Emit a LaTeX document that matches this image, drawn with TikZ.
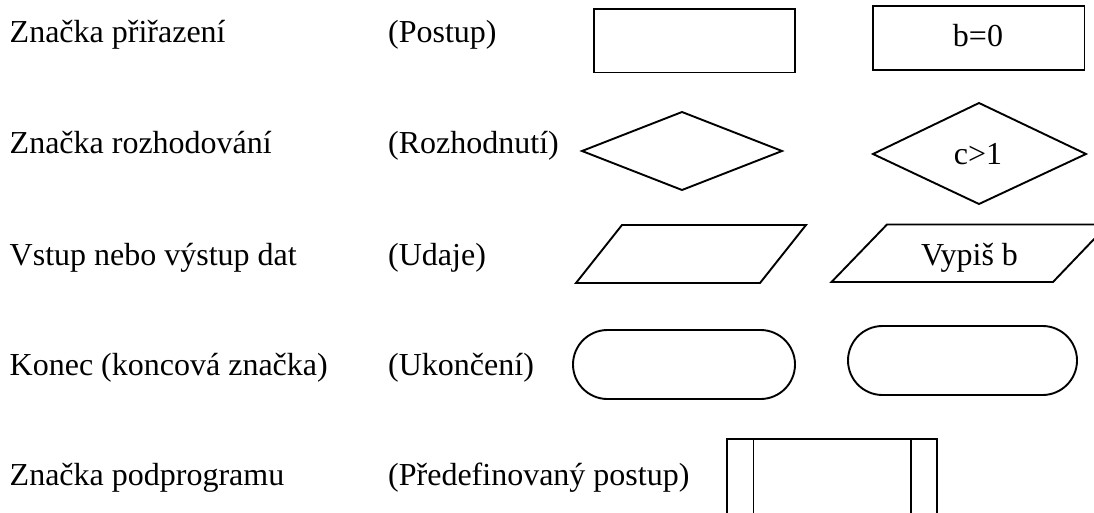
\documentclass[tikz,border=0pt]{standalone}
\usepackage{fontspec}
\setmainfont{Liberation Serif}
\begin{document}
\begin{tikzpicture}[x=1pt,y=-1pt,
  symbol/.style={line width=1.9pt, line join=miter},
  label/.style={anchor=base west, inner sep=0pt, font=\fontsize{32pt}{38pt}\selectfont},
  inlabel/.style={anchor=base, inner sep=0pt, font=\fontsize{32pt}{38pt}\selectfont}]
\useasboundingbox (0,0) rectangle (1094,513);

% row descriptions
\node[label] (d1) at (9.5,43) {Značka přiřazení};
\node[label] (d2) at (9.5,154) {Značka rozhodování};
\node[label] (d3) at (9.5,265) {Vstup nebo výstup dat};
\node[label] (d4) at (9.5,375) {Konec (koncová značka)};
\node[label] (d5) at (9.5,485) {Značka podprogramu};

\node[label] (n1) at (388,43) {(Postup)};
\node[label] (n2) at (388,154) {(Rozhodnutí)};
\node[label] (n3) at (388,265) {(Udaje)};
\node[label] (n4) at (388,375) {(Ukončení)};
\node[label] (n5) at (388,485) {(Předefinovaný postup)};

% process
\draw[symbol] (594,9) rectangle (795,72.5);
\draw[symbol] (873,6) rectangle (1084.5,70);
\node[inlabel] (t1) at (978,47) {b=0};

% decision
\draw[symbol] (582,151) -- (682,112) -- (782,151) -- (682,190) -- cycle;
\draw[symbol] (873,154) -- (979,103) -- (1086,154) -- (979,204) -- cycle;
\node[inlabel] (t2) at (978,165) {c>1};

% data
\draw[symbol] (622,225) -- (806,225) -- (760,283) -- (576,283) -- cycle;
\draw[symbol] (887,224.5) -- (1108,224.5) -- (1053,282) -- (831.5,282) -- cycle;
\node[inlabel] (t3) at (969.5,265.5) {Vypiš b};

% terminator
\draw[symbol, rounded corners=34.5pt] (573,330) rectangle (795,399);
\draw[symbol, rounded corners=34.5pt] (848,326) rectangle (1077,395);

% predefined process
\draw[symbol] (727,513) -- (727,439) -- (937,439) -- (937,513);
\draw[symbol] (753.5,439) -- (753.5,513);
\draw[symbol] (911,439) -- (911,513);
\end{tikzpicture}
\end{document}
